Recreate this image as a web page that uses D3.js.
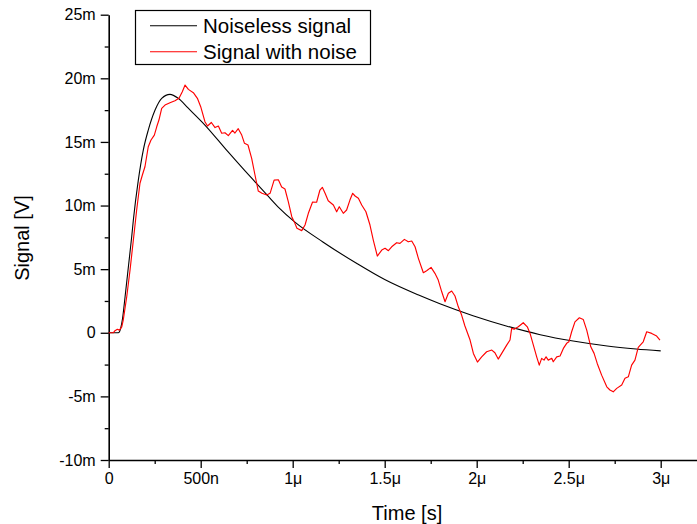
<!DOCTYPE html>
<html>
<head>
<meta charset="utf-8">
<script src="https://cdn.jsdelivr.net/npm/d3@7"></script>
<style>
  html, body { margin: 0; padding: 0; background: #fff; }
  svg { display: block; font-family: "Liberation Sans", Arial, sans-serif; }
</style>
</head>
<body>
<svg id="chart" width="697" height="524"></svg>
<script>
// ---- Data (time in microseconds, signal in millivolts) ----
const seriesNames = ["Noiseless signal", "Signal with noise"];
const seriesColors = ["#000000", "#ff0000"];

const noiselessTime = [0, 0.052, 0.065, 0.075, 0.089, 0.107, 0.125, 0.134, 0.161, 0.188, 0.215, 0.252, 0.288, 0.333,
  0.378, 0.431, 0.523, 0.648, 0.741, 0.833, 0.920, 1.012, 1.164, 1.349, 1.50, 1.681, 1.80, 1.98, 2.165, 2.345,
  2.524, 2.709, 2.866, 3.0];
const noiselessSignal = [0, 0, 0.35, 1.1, 2.83, 5.19, 7.55, 8.86, 12.0, 14.36, 15.93, 17.51, 18.43, 18.74,
  18.43, 17.67, 16.33, 14.23, 12.72, 11.28, 9.90, 8.70, 7.14, 5.44, 4.18, 2.98, 2.28, 1.34, 0.52, -0.15,
  -0.65, -1.04, -1.27, -1.42];

const noisyTime = [0, 0.025, 0.034, 0.047, 0.058, 0.071, 0.079, 0.098, 0.116, 0.134, 0.152, 0.170, 0.183, 0.197,
  0.215, 0.230, 0.248, 0.261, 0.273, 0.288, 0.306, 0.333, 0.360, 0.382, 0.400, 0.415, 0.433, 0.460, 0.482, 0.500,
  0.523, 0.537, 0.558, 0.578, 0.596, 0.614, 0.632, 0.650, 0.673, 0.686, 0.704, 0.723, 0.738, 0.757, 0.777, 0.795,
  0.813, 0.833, 0.859, 0.877, 0.899, 0.922, 0.940, 0.958, 0.976, 0.995, 1.012, 1.023, 1.049, 1.067, 1.085, 1.108,
  1.130, 1.148, 1.161, 1.176, 1.193, 1.221, 1.239, 1.253, 1.275, 1.293, 1.311, 1.326, 1.339, 1.357, 1.375, 1.398,
  1.420, 1.438, 1.460, 1.484, 1.502, 1.520, 1.538, 1.565, 1.583, 1.607, 1.628, 1.647, 1.665, 1.683, 1.710, 1.728,
  1.752, 1.773, 1.791, 1.810, 1.828, 1.846, 1.864, 1.882, 1.900, 1.918, 1.936, 1.964, 1.982, 2.004, 2.027, 2.054,
  2.082, 2.099, 2.117, 2.136, 2.163, 2.181, 2.190, 2.203, 2.226, 2.253, 2.275, 2.290, 2.308, 2.326, 2.340, 2.353,
  2.366, 2.377, 2.389, 2.408, 2.416, 2.435, 2.453, 2.471, 2.489, 2.501, 2.516, 2.534, 2.558, 2.579, 2.598, 2.620,
  2.638, 2.655, 2.679, 2.707, 2.724, 2.742, 2.761, 2.788, 2.806, 2.824, 2.842, 2.860, 2.878, 2.905, 2.924, 2.951,
  2.978, 2.996];
const noisySignal = [0, 0, 0.16, 0.27, 0.21, 0.47, 1.00, 2.83, 4.93, 7.29, 9.65, 11.75, 12.40, 13.05,
  14.62, 15.15, 15.54, 16.19, 16.72, 17.64, 17.90, 18.08, 18.24, 18.43, 18.95, 19.47, 19.13, 18.87, 18.43, 17.77,
  16.59, 16.25, 16.53, 16.13, 16.25, 15.68, 15.72, 15.50, 15.91, 15.70, 16.04, 15.54, 14.89, 14.76, 13.71, 12.40,
  11.14, 10.96, 10.83, 10.96, 12.00, 12.03, 11.45, 11.30, 10.30, 9.12, 8.60, 8.21, 8.03, 8.47, 9.39, 10.28,
  10.26, 11.22, 11.43, 10.96, 10.38, 10.04, 9.51, 9.91, 9.39, 9.65, 10.43, 10.96, 10.75, 10.57, 10.04, 9.51,
  8.47, 7.29, 6.03, 6.50, 6.64, 6.45, 6.76, 7.08, 7.03, 7.34, 7.15, 7.21, 6.76, 5.85, 4.72, 4.87,
  5.14, 4.67, 4.14, 3.22, 2.44, 3.10, 3.28, 2.89, 2.04, 1.39, 0.53, -0.57, -1.62, -2.30, -1.89, -1.49,
  -1.36, -1.57, -2.07, -1.62, -0.97, -0.57, 0.35, 0.27, 0.47, 0.79, 0.47, -0.05, -0.97, -1.89, -2.54, -2.01,
  -2.15, -1.89, -2.15, -2.01, -2.28, -1.89, -1.83, -1.23, -0.83, -0.71, 0.08, 0.86, 1.18, 1.05, 0.21, -1.10,
  -1.62, -2.41, -3.33, -4.25, -4.50, -4.64, -4.37, -4.11, -3.58, -3.46, -2.54, -2.15, -1.15, -0.71, 0.08, -0.05,
  -0.26, -0.57];

const xMajorTicks = [0, 0.5, 1, 1.5, 2, 2.5, 3];
const xTickLabels = ["0", "500n", "1\u03bc", "1.5\u03bc", "2\u03bc", "2.5\u03bc", "3\u03bc"];
const xMinorTicks = [0.25, 0.75, 1.25, 1.75, 2.25, 2.75];
const yMajorTicks = [-10, -5, 0, 5, 10, 15, 20, 25];
const yTickLabels = ["-10m", "-5m", "0", "5m", "10m", "15m", "20m", "25m"];
const yMinorTicks = [-7.5, -2.5, 2.5, 7.5, 12.5, 17.5, 22.5];
const xTitle = "Time [s]";
const yTitle = "Signal [V]";

// ---- Layout ----
const svg = d3.select("#chart");
const x = d3.scaleLinear().domain([0, 3.2]).range([108.7, 697.5]);
const y = d3.scaleLinear().domain([-10, 25]).range([460, 14.7]);

const tickFont = 16;

// X axis
const xAxis = d3.axisBottom(x).tickValues(xMajorTicks)
  .tickFormat((d, i) => xTickLabels[i]).tickSize(8).tickPadding(5).tickSizeOuter(0);
const gx = svg.append("g").attr("transform", `translate(0,${y(-10)})`).call(xAxis);
gx.select(".domain").attr("stroke", "#000").attr("stroke-width", 1.6);
gx.selectAll(".tick line").attr("stroke", "#000").attr("stroke-width", 1.3);
gx.selectAll(".tick text").attr("font-size", tickFont).attr("fill", "#000")
  .attr("font-family", "Liberation Sans, Arial, sans-serif");
const xMinor = d3.axisBottom(x).tickValues(xMinorTicks).tickFormat("").tickSize(4).tickSizeOuter(0);
const gxm = svg.append("g").attr("transform", `translate(0,${y(-10)})`).call(xMinor);
gxm.select(".domain").remove();
gxm.selectAll(".tick line").attr("stroke", "#000").attr("stroke-width", 1.3);

// Y axis
const yAxis = d3.axisLeft(y).tickValues(yMajorTicks)
  .tickFormat((d, i) => yTickLabels[i]).tickSize(8).tickPadding(5).tickSizeOuter(0);
const gy = svg.append("g").attr("transform", `translate(${x(0)},0)`).call(yAxis);
gy.select(".domain").attr("stroke", "#000").attr("stroke-width", 1.6);
gy.selectAll(".tick line").attr("stroke", "#000").attr("stroke-width", 1.3);
gy.selectAll(".tick text").attr("font-size", tickFont).attr("fill", "#000")
  .attr("font-family", "Liberation Sans, Arial, sans-serif");
const yMinor = d3.axisLeft(y).tickValues(yMinorTicks).tickFormat("").tickSize(4).tickSizeOuter(0);
const gym = svg.append("g").attr("transform", `translate(${x(0)},0)`).call(yMinor);
gym.select(".domain").remove();
gym.selectAll(".tick line").attr("stroke", "#000").attr("stroke-width", 1.3);

// Axis titles
svg.append("text").attr("x", 407).attr("y", 520).attr("text-anchor", "middle")
  .attr("font-size", 20).attr("fill", "#000").text(xTitle);
svg.append("text").attr("transform", "translate(29,238) rotate(-90)").attr("text-anchor", "middle")
  .attr("font-size", 20).attr("fill", "#000").text(yTitle);

// Lines
const noiseless = noiselessTime.map((t, i) => [t, noiselessSignal[i]]);
const noisy = noisyTime.map((t, i) => [t, noisySignal[i]]);

svg.append("path").datum(noiseless)
  .attr("fill", "none").attr("stroke", seriesColors[0]).attr("stroke-width", 1.1)
  .attr("d", d3.line().x(d => x(d[0])).y(d => y(d[1])).curve(d3.curveMonotoneX));
svg.append("path").datum(noisy)
  .attr("fill", "none").attr("stroke", seriesColors[1]).attr("stroke-width", 1.15)
  .attr("stroke-linejoin", "round")
  .attr("d", d3.line().x(d => x(d[0])).y(d => y(d[1])));

// Legend
const lg = svg.append("g");
lg.append("rect").attr("x", 135.5).attr("y", 10.5).attr("width", 235).attr("height", 54)
  .attr("fill", "#fff").attr("stroke", "#000").attr("stroke-width", 1.2);
seriesNames.forEach((name, i) => {
  const yy = 25.7 + i * 26;
  lg.append("line").attr("x1", 150).attr("x2", 197).attr("y1", yy).attr("y2", yy)
    .attr("stroke", seriesColors[i]).attr("stroke-width", 1.1);
  lg.append("text").attr("x", 203).attr("y", yy + 7.5).attr("font-size", 20.5)
    .attr("fill", "#000").text(name);
});
</script>
</body>
</html>
